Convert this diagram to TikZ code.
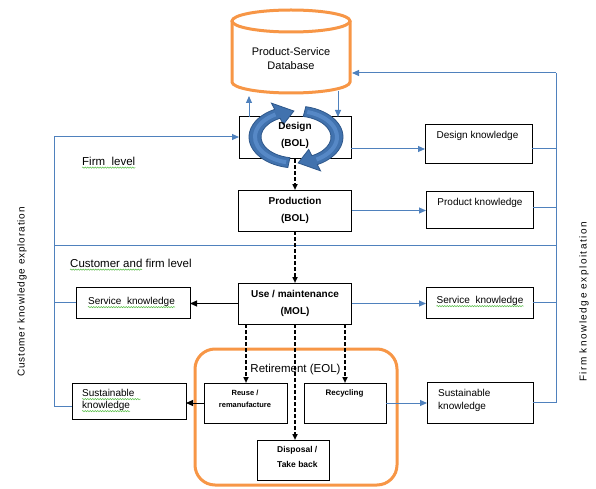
\documentclass[tikz,border=0pt]{standalone}
\usepackage{fontspec}
\setmainfont{Liberation Sans}
\usetikzlibrary{arrows.meta,calc,decorations.pathmorphing}
\definecolor{lblue}{HTML}{4F81BD}
\definecolor{ringfill}{HTML}{4172AE}
\definecolor{ringlight}{HTML}{5688C6}
\definecolor{ringedge}{HTML}{2E578A}
\definecolor{orng}{HTML}{F79646}
\definecolor{spellgreen}{HTML}{5BBF4A}
\begin{document}
\begin{tikzpicture}[x=1pt,y=-1pt,
  box/.style={draw=black, line width=1pt, fill=white, inner sep=0pt, outer sep=0pt},
  main/.style={box, font=\fontsize{10}{17}\selectfont\bfseries, align=center},
  txt/.style={inner sep=0pt, font=\fontsize{10}{14}\selectfont},
  lbl/.style={inner sep=0pt, font=\fontsize{11.5}{14}\selectfont},
  small/.style={inner sep=0pt, align=center},
  bline/.style={draw=lblue, line width=1pt},
  barrow/.style={bline, -{Triangle[length=7pt,width=6pt]}},
  karrow/.style={draw=black, line width=1pt, -{Triangle[length=7pt,width=6pt]}},
  dasharrow/.style={draw=black, line width=2.2pt, dash pattern=on 4pt off 2pt, -{Triangle[length=6pt,width=5pt]}},
  spell/.style={draw=spellgreen, line width=0.5pt, decorate, decoration={snake, amplitude=0.7pt, segment length=2.5pt}},
  ring/.style={fill=ringfill, draw=ringedge, line width=0.8pt},
  ringhl/.style={draw=ringlight, line width=4pt},
]
\useasboundingbox (0,0) rectangle (596,489);

% helper coordinates
\coordinate (L1) at (54,137);
\coordinate (L2) at (54,406);
\coordinate (R1) at (556,73);
\coordinate (dbR) at (352,73);
\coordinate (upA) at (249,96);
\coordinate (dnA) at (338,91);
\coordinate (yD) at (0,149);
\coordinate (yPk) at (0,207);
\coordinate (sepL) at (54,245);
\coordinate (sepR) at (556,245);
\coordinate (rc) at (296,137);

% database cylinder
\draw[orng, line width=3pt, fill=white] (232,21) -- (232,82) arc[start angle=180, end angle=0, x radius=59, y radius=11] -- (350,21);
\draw[orng, line width=3pt, fill=white] (291,21) ellipse[x radius=59, y radius=11];
\node[inner sep=0pt, align=center, font=\fontsize{11}{14}\selectfont] (db) at (291,59) {Product-Service\\Database};

% retirement frame
\node[draw=orng, line width=3pt, rounded corners=20pt, minimum width=202, minimum height=136, inner sep=0pt] (ret) at (296,417) {};
\node[lbl, font=\fontsize{11.5}{14}\selectfont] (retl) at (295.5,370) {Retirement (EOL)};

% main boxes
\node[box, minimum width=112, minimum height=42] (design) at (295,138) {};
\node[main, minimum width=113, minimum height=41] (prod) at (295,210.5) {Production\\(BOL)};
\node[main, minimum width=113, minimum height=41] (use) at (295,303.5) {Use / maintenance\\(MOL)};

% knowledge boxes
\node[box, minimum width=107, minimum height=38] (dk) at (478.5,144) {};
\node[txt] (dkt) at (477.5,136) {Design knowledge};
\node[box, minimum width=107, minimum height=37] (pk) at (479.5,209.5) {};
\node[txt] (pkt) at (480,202.5) {Product knowledge};
\node[box, minimum width=107, minimum height=31] (skR) at (479.5,302.5) {};
\node[txt] (skRt) at (480,301) {Service\ \ knowledge};
\node[box, minimum width=106, minimum height=41] (susR) at (480,402.5) {};
\node[txt, anchor=west] (susRt1) at (438,393) {Sustainable};
\node[txt, anchor=west] (susRt2) at (438,407) {knowledge};
\node[box, minimum width=114, minimum height=31] (skL) at (133,302.5) {};
\node[txt] (skLt) at (131.5,302) {Service\ \ knowledge};
\node[box, minimum width=114, minimum height=36] (susL) at (129,401) {};
\node[txt, anchor=west] (susLt1) at (82,393) {Sustainable};
\node[txt, anchor=west] (susLt2) at (82,406) {knowledge};

% end-of-life boxes
\node[box, minimum width=83, minimum height=40] (reuse) at (246,403) {};
\node[small, font=\fontsize{7.5}{12}\selectfont\bfseries] (reuset) at (245,399) {Reuse /\\remanufacture};
\node[box, minimum width=82, minimum height=40] (rec) at (345,403) {};
\node[small, font=\fontsize{8}{12}\selectfont\bfseries] (rect) at (344.5,393) {Recycling};
\node[box, minimum width=72, minimum height=40] (disp) at (293,460) {};
\node[small, align=left, anchor=west, font=\fontsize{8.5}{15}\selectfont\bfseries] (dispt) at (277,456.5) {Disposal /\\Take back};

% ring arrows around design
\filldraw[ring]
  ($(rc)+(100:47 and 31)$) arc[start angle=100, end angle=243, x radius=47, y radius=31]
  -- ($(rc)+(243:54 and 38)$) -- ($(rc)+(267:41 and 26)$) -- ($(rc)+(243:28 and 14)$)
  -- ($(rc)+(243:35 and 21)$) arc[start angle=243, end angle=100, x radius=35, y radius=21] -- cycle;
\filldraw[ring]
  ($(rc)+(-78:47 and 31)$) arc[start angle=-78, end angle=63, x radius=47, y radius=31]
  -- ($(rc)+(63:54 and 38)$) -- ($(rc)+(87:41 and 26)$) -- ($(rc)+(63:28 and 14)$)
  -- ($(rc)+(63:35 and 21)$) arc[start angle=63, end angle=-78, x radius=35, y radius=21] -- cycle;
\draw[ringhl] ($(rc)+(104:41 and 26)$) arc[start angle=104, end angle=240, x radius=41, y radius=26];
\draw[ringhl] ($(rc)+(-74:41 and 26)$) arc[start angle=-74, end angle=60, x radius=41, y radius=26];
\node[inner sep=0pt, align=center, font=\fontsize{10}{17}\selectfont\bfseries] (designt) at (295,135.5) {Design\\(BOL)};

% level labels
\node[lbl, anchor=west] (firm) at (82,161) {Firm\ \ level};
\node[lbl, anchor=west] (cust) at (70,263) {Customer and firm level};
\node[rotate=90, inner sep=0pt, font=\fontsize{10}{12}\selectfont\addfontfeatures{LetterSpace=9}] (cke) at (22,292) {Customer knowledge exploration};
\node[rotate=90, inner sep=0pt, font=\fontsize{10}{12}\selectfont\addfontfeatures{LetterSpace=15}] (fke) at (584,302) {Firm knowledge exploitation};

% spell-check underlines
\draw[spell] ([yshift=-2.5pt]firm.base west) -- ([yshift=-2.5pt]firm.base east);
\draw[spell] ([yshift=-2.5pt]cust.base west) -- ++(72,0);
\draw[spell] ([yshift=-2.5pt]skLt.base west) -- ([yshift=-2.5pt]skLt.base east);
\draw[spell] ([yshift=-2.5pt]skRt.base west) -- ([yshift=-2.5pt]skRt.base east);
\draw[spell] ([yshift=-2.5pt]susLt1.base west) -- ([xshift=6pt,yshift=-2.5pt]susLt1.base east);
\draw[spell] ([yshift=-2.5pt]susLt2.base west) -- ([yshift=-2.5pt]susLt2.base east);

% blue feedback lines
\draw[bline] (sepL) -- (sepR);
\draw[bline] (L2) -- (L1);
\draw[barrow] (L1) -- (L1 -| design.west);
\draw[bline] (skL.west) -- (skL.west -| L1);
\draw[bline] (L2) -- (L2 -| susL.west);
\draw[bline] (R1 |- susR.east) -- (R1);
\draw[barrow] (R1) -- (dbR);
\draw[barrow] (upA |- design.north) -- (upA);
\draw[barrow] (dnA) -- (dnA |- design.north);
\draw[barrow] (design.east |- yD) -- (dk.west |- yD);
\draw[bline] (dk.east |- yD) -- (R1 |- yD);
\draw[barrow] (prod.east) -- (prod.east -| pk.west);
\draw[bline] (pk.east |- yPk) -- (R1 |- yPk);
\draw[barrow] (use.east) -- (use.east -| skR.west);
\draw[bline] (skR.east) -- (skR.east -| R1);
\draw[barrow] (rec.east) -- (rec.east -| susR.west);
\draw[bline] (susR.east) -- (susR.east -| R1);

% black arrows
\draw[karrow] (use.west) -- (use.west -| skL.east);
\draw[karrow] (reuse.west) -- (reuse.west -| susL.east);

% dashed process arrows
\draw[dasharrow] (design.south) -- (design.south |- prod.north);
\draw[dasharrow] (prod.south) -- (prod.south |- use.north);
\draw[dasharrow] (reuse.north |- use.south) -- (reuse.north);
\draw[dasharrow] (rec.north |- use.south) -- (rec.north);
\draw[dasharrow] (use.south) -- (use.south |- disp.north);
\end{tikzpicture}
\end{document}
